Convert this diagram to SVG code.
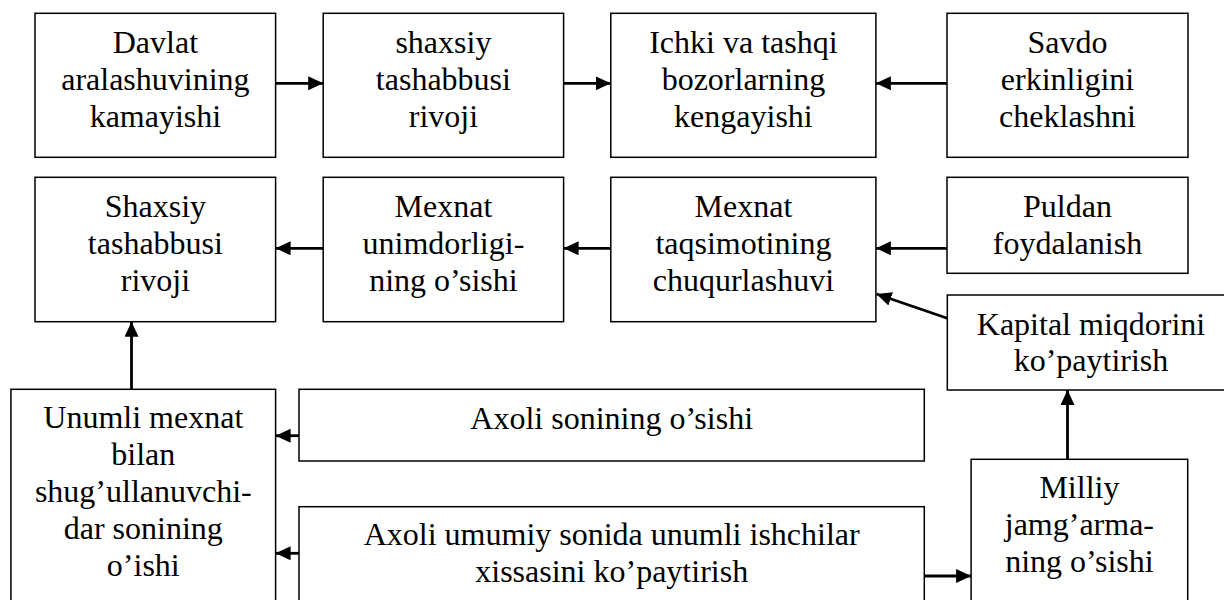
<svg xmlns="http://www.w3.org/2000/svg" width="1224" height="600" viewBox="0 0 1224 600">
<style>
.box{fill:#fff;stroke:#000;stroke-width:1.5}
text{font-family:"Liberation Serif","Times New Roman",serif;font-size:32px;fill:#000;text-anchor:middle}
.c{stroke:#000;stroke-width:2.8;fill:none;marker-end:url(#ah)}
</style>
<defs>
<marker id="ah" markerUnits="userSpaceOnUse" markerWidth="17" markerHeight="16" refX="15" refY="7" orient="auto">
<path d="M0,0 L15,7 L0,14 z" fill="#000"/>
</marker>
</defs>
<rect width="1224" height="600" fill="#fff"/>
<g id="n1"><rect class="box" x="35" y="13.3" width="240.6" height="144"/>
<text x="155.4" y="53.3">Davlat</text><text x="155.4" y="90.3">aralashuvining</text><text x="155.4" y="127.3">kamayishi</text></g>
<g id="n2"><rect class="box" x="323.2" y="13.3" width="240.4" height="144"/>
<text x="443.4" y="53.3">shaxsiy</text><text x="443.4" y="90.3">tashabbusi</text><text x="443.4" y="127.3">rivoji</text></g>
<g id="n3"><rect class="box" x="610.8" y="13.3" width="265.1" height="144"/>
<text x="743.4" y="53.3">Ichki va tashqi</text><text x="743.4" y="90.3">bozorlarning</text><text x="743.4" y="127.3">kengayishi</text></g>
<g id="n4"><rect class="box" x="947" y="13.3" width="241" height="144"/>
<text x="1067.5" y="53.3">Savdo</text><text x="1067.5" y="90.3">erkinligini</text><text x="1067.5" y="127.3">cheklashni</text></g>
<g id="n5"><rect class="box" x="35" y="177.3" width="240.6" height="144.4"/>
<text x="155.4" y="216.7">Shaxsiy</text><text x="155.4" y="253.7">tashabbusi</text><text x="155.4" y="290.7">rivoji</text></g>
<g id="n6"><rect class="box" x="323.2" y="177.3" width="240.4" height="144.4"/>
<text x="443.4" y="216.7">Mexnat</text><text x="443.4" y="253.7">unimdorligi-</text><text x="443.4" y="290.7">ning o’sishi</text></g>
<g id="n7"><rect class="box" x="610.8" y="177.3" width="265.1" height="144.4"/>
<text x="743.4" y="216.7">Mexnat</text><text x="743.4" y="253.7">taqsimotining</text><text x="743.4" y="290.7">chuqurlashuvi</text></g>
<g id="n8"><rect class="box" x="947" y="177.3" width="241" height="96"/>
<text x="1067.5" y="216.7">Puldan</text><text x="1067.5" y="253.7">foydalanish</text></g>
<g id="n9"><rect class="box" x="947.3" y="295" width="290" height="95"/>
<text x="1091" y="334.5">Kapital miqdorini</text><text x="1091" y="371">ko’paytirish</text></g>
<g id="n10"><rect class="box" x="10.9" y="389.3" width="264.7" height="225"/>
<text x="143.3" y="428.3">Unumli mexnat</text><text x="143.3" y="465.1">bilan</text><text x="143.3" y="501.9">shug’ullanuvchi-</text><text x="143.3" y="538.7">dar sonining</text><text x="143.3" y="575.5">o’ishi</text></g>
<g id="n11"><rect class="box" x="299" y="389.3" width="625.3" height="71.7"/>
<text x="611.7" y="429.3">Axoli sonining o’sishi</text></g>
<g id="n12"><rect class="box" x="299" y="506.7" width="625.3" height="110"/>
<text x="611.7" y="545">Axoli umumiy sonida unumli ishchilar</text><text x="611.7" y="582">xissasini ko’paytirish</text></g>
<g id="n13"><rect class="box" x="971.1" y="459.3" width="216.6" height="160"/>
<text x="1079.4" y="498.3">Milliy</text><text x="1079.4" y="535.1">jamg’arma-</text><text x="1079.4" y="571.9">ning o’sishi</text></g>
<g id="connectors">
<line class="c" x1="275.6" y1="83.3" x2="323.2" y2="83.3"/>
<line class="c" x1="563.6" y1="83.3" x2="610.8" y2="83.3"/>
<line class="c" x1="947" y1="83.3" x2="875.9" y2="83.3"/>
<line class="c" x1="323.2" y1="248.3" x2="275.6" y2="248.3"/>
<line class="c" x1="610.8" y1="248.3" x2="563.6" y2="248.3"/>
<line class="c" x1="947" y1="248.3" x2="875.9" y2="248.3"/>
<line class="c" x1="947.3" y1="318.3" x2="876.5" y2="294"/>
<line class="c" x1="131.5" y1="389.3" x2="131.5" y2="321.7"/>
<line class="c" x1="299" y1="435.7" x2="275.6" y2="435.7"/>
<line class="c" x1="299" y1="553.3" x2="275.6" y2="553.3"/>
<line class="c" x1="924.3" y1="576" x2="971.1" y2="576"/>
<line class="c" x1="1067.5" y1="459.3" x2="1067.5" y2="390"/>
</g>
</svg>
